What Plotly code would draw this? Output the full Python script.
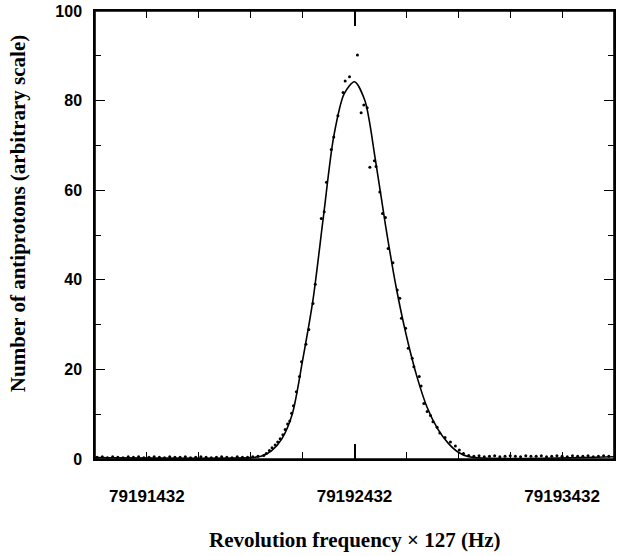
import plotly.graph_objects as go

CENTER = 79192432

# measured data points: frequency offset from 79192432 Hz and counts
pt_offset = [-1240, -1215, -1190, -1165, -1140, -1115, -1090, -1065, -1040, -1015,
             -990, -965, -940, -915, -890, -865, -840, -815, -790, -765,
             -740, -715, -690, -665, -640, -615, -590, -565, -540, -515, -490, -465,
             -437, -425, -410, -397, -382, -370, -358, -345, -334, -322, -312, -303,
             -294, -280, -265, -255, -234, -220, -200, -189, -160, -146, -135, -112,
             -100, -80, -55, -45, -24, 14, 32, 45, 61, 74, 96, 104, 122, 135, 149,
             162, 185, 206, 218, 226, 246, 259, 278, 286, 312, 321, 334, 350, 366,
             378, 398, 411, 436, 462, 486, 505, 525,
             550, 575, 600, 625, 650, 675, 700, 725, 750, 775, 800, 825, 850, 875,
             900, 925, 950, 975, 1000, 1025, 1050, 1075, 1100, 1125, 1150, 1175,
             1200, 1225]
pt_value = [0.4, 0.5, 0.3, 0.5, 0.4, 0.3, 0.5, 0.4, 0.5, 0.3,
            0.4, 0.5, 0.4, 0.3, 0.5, 0.4, 0.4, 0.5, 0.3, 0.4,
            0.5, 0.4, 0.3, 0.4, 0.5, 0.4, 0.3, 0.5, 0.4, 0.4, 0.5, 0.6,
            0.8, 1.2, 1.9, 2.5, 3.1, 3.8, 4.5, 5.4, 6.6, 7.8, 8.5, 10.2,
            11.9, 15.0, 18.4, 21.7, 25.6, 28.9, 34.7, 39.0, 53.7, 55.2, 61.8, 69.1,
            71.9, 76.6, 81.8, 84.4, 85.3, 90.2, 77.3, 79.0, 78.4, 65.1, 66.6, 65.3, 59.6, 54.8, 53.9,
            47.0, 43.8, 37.7, 35.9, 31.4, 29.2, 24.7, 22.5, 20.6, 18.4, 16.3, 12.4, 10.6, 9.7,
            8.3, 7.1, 5.8, 4.8, 3.8, 2.9, 2.0, 1.2,
            0.8, 0.6, 0.7, 0.5, 0.6, 0.7, 0.5, 0.6, 0.7, 0.6, 0.5, 0.7, 0.6, 0.6,
            0.7, 0.5, 0.6, 0.7, 0.6, 0.5, 0.7, 0.6, 0.6, 0.7, 0.5, 0.6, 0.7, 0.6,
            0.6, 0.7]

# fitted curve
fit_offset = [-1250, -500, -450, -400, -350, -300, -250, -200, -150, -100, -50, 0,
              50, 100, 150, 200, 250, 300, 350, 400, 450, 500, 550, 1250]
fit_value = [0.3, 0.3, 0.6, 1.8, 4.5, 10.0, 22.0, 35.5, 54.0, 72.0, 81.5, 84.2,
             80.0, 67.0, 52.0, 38.5, 27.5, 18.5, 11.5, 6.8, 3.6, 1.5, 0.5, 0.5]

x_ticks = [79191432, 79192432, 79193432]
x_ticklabels = ["79191432", "79192432", "79193432"]
x_long_tick = [79192432]
y_ticks = [0, 20, 40, 60, 80, 100]
x_range = [79191182, 79193682]

pt_x = [CENTER + d for d in pt_offset]
fit_x = [CENTER + d for d in fit_offset]

fig = go.Figure()
fig.add_trace(go.Scatter(x=fit_x, y=fit_value, mode="lines",
                         line=dict(color="black", width=1.6, shape="spline", smoothing=0.8),
                         showlegend=False))
fig.add_trace(go.Scatter(x=pt_x, y=pt_value, mode="markers",
                         marker=dict(color="black", size=3),
                         showlegend=False))

xtickfont = dict(family="Liberation Sans", size=17, color="black", weight="bold")
ytickfont = dict(family="Liberation Sans", size=16, color="black", weight="bold")
fig.update_layout(
    width=626, height=556,
    margin=dict(l=95, r=12, t=11, b=97, autoexpand=False),
    paper_bgcolor="white", plot_bgcolor="white",
    xaxis=dict(range=x_range, tickvals=x_ticks, ticktext=x_ticklabels,
               ticks="inside", ticklen=7, tickwidth=1.2, tickcolor="black",
               minor=dict(dtick=250, tick0=79191432, ticks="inside", ticklen=7,
                          tickwidth=1, tickcolor="black"),
               showline=True, linecolor="black", linewidth=1.5, mirror="ticks",
               showgrid=False, zeroline=False, tickfont=xtickfont,
               ticklabelstandoff=21, automargin=False),
    xaxis2=dict(range=x_range, overlaying="x", side="bottom", tickvals=x_long_tick,
                showticklabels=False, ticks="inside", ticklen=15, tickwidth=1.6,
                tickcolor="black", showline=False, mirror="ticks",
                showgrid=False, zeroline=False, automargin=False),
    yaxis=dict(range=[0, 100], tickvals=y_ticks,
               ticks="inside", ticklen=10, tickwidth=1.2, tickcolor="black",
               minor=dict(dtick=10, tick0=0, ticks="inside", ticklen=6,
                          tickwidth=1, tickcolor="black"),
               showline=True, linecolor="black", linewidth=1.5, mirror="ticks",
               showgrid=False, zeroline=False, tickfont=ytickfont,
               ticklabelstandoff=8, automargin=False),
)
# invisible trace to attach the long-tick overlay axis
fig.add_trace(go.Scatter(x=[x_range[0]], y=[None], xaxis="x2", mode="markers",
                         showlegend=False, hoverinfo="skip"))
# plot frame
fig.add_shape(type="rect", xref="paper", yref="paper", x0=0, x1=1, y0=0, y1=1,
              line=dict(color="black", width=1.6), layer="above")
fig.add_annotation(text="Revolution frequency \u00d7 127 (Hz)", xref="paper", yref="paper",
                   x=0.5, y=-0.181, yanchor="middle", showarrow=False,
                   font=dict(family="Liberation Serif", size=21, color="black", weight="bold"))
fig.add_annotation(text="Number of antiprotons (arbitrary scale)", xref="paper", yref="paper",
                   x=-0.148, y=0.547, xanchor="center", yanchor="middle", textangle=-90,
                   showarrow=False,
                   font=dict(family="Liberation Serif", size=21, color="black", weight="bold"))
fig.write_html("out.html", config={"displayModeBar": False},
               post_script="document.body.style.margin='0';")
